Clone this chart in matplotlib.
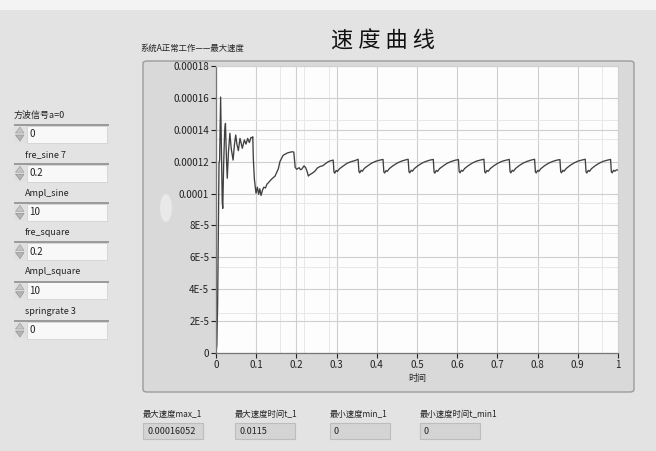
import matplotlib.pyplot as plt
import numpy as np
from matplotlib.patches import Rectangle, FancyBboxPatch, Polygon, Ellipse
from matplotlib.ticker import FixedLocator

plt.rcParams['font.family'] = ['Noto Sans CJK SC', 'DejaVu Sans']

# speed curve (time in s, speed)
time = [
    0.000, 0.002, 0.004, 0.006, 0.0075, 0.009, 0.0115, 0.0135, 0.0155, 0.0168,
    0.019, 0.0215, 0.0235, 0.026, 0.028, 0.031, 0.0345, 0.038, 0.0425, 0.046,
    0.049, 0.052, 0.0556, 0.0597, 0.063, 0.0655, 0.0705, 0.0746, 0.0788, 0.083,
    0.087, 0.0905, 0.0915, 0.093, 0.0955, 0.0995, 0.103, 0.106, 0.109, 0.112,
    0.116, 0.119, 0.123, 0.127, 0.131, 0.138, 0.147, 0.155, 0.159, 0.167,
    0.177, 0.185, 0.190, 0.1935, 0.197, 0.201, 0.204, 0.207, 0.210, 0.213,
    0.219, 0.223, 0.2265, 0.2297, 0.234, 0.238, 0.246, 0.252, 0.259, 0.266,
    0.271, 0.278, 0.284, 0.2915,
    0.2935, 0.2955, 0.299, 0.302, 0.307, 0.316, 0.326, 0.336, 0.346, 0.3535,
    0.3555, 0.3575, 0.361, 0.364, 0.369, 0.378, 0.388, 0.398, 0.408, 0.4155,
    0.4175, 0.4195, 0.423, 0.426, 0.431, 0.440, 0.450, 0.460, 0.470, 0.478,
    0.480, 0.482, 0.4855, 0.4885, 0.4935, 0.5025, 0.5125, 0.5225, 0.5325, 0.5405,
    0.5425, 0.5445, 0.548, 0.551, 0.556, 0.565, 0.575, 0.585, 0.595, 0.603,
    0.605, 0.607, 0.6105, 0.6135, 0.6185, 0.6275, 0.6375, 0.6475, 0.6575, 0.6665,
    0.6685, 0.6705, 0.674, 0.677, 0.682, 0.691, 0.701, 0.711, 0.721, 0.7295,
    0.7315, 0.7335, 0.737, 0.740, 0.745, 0.754, 0.764, 0.774, 0.784, 0.7925,
    0.7945, 0.7965, 0.800, 0.803, 0.808, 0.817, 0.827, 0.837, 0.847, 0.8555,
    0.8575, 0.8595, 0.863, 0.866, 0.871, 0.880, 0.890, 0.900, 0.910, 0.9185,
    0.9205, 0.9225, 0.926, 0.929, 0.934, 0.943, 0.953, 0.963, 0.973, 0.9815,
    0.9835, 0.9855, 0.989, 0.992, 0.996, 1.000,
]
speed = [
    0.0, 0.05e-4, 0.30e-4, 0.85e-4, 1.19e-4, 1.21e-4, 1.6052e-4, 1.28e-4, 0.95e-4, 0.907e-4,
    1.18e-4, 1.39e-4, 1.44e-4, 1.22e-4, 1.096e-4, 1.26e-4, 1.378e-4, 1.28e-4, 1.21e-4, 1.31e-4,
    1.367e-4, 1.31e-4, 1.269e-4, 1.346e-4, 1.31e-4, 1.284e-4, 1.336e-4, 1.31e-4, 1.346e-4, 1.32e-4,
    1.352e-4, 1.350e-4, 1.356e-4, 1.21e-4, 1.09e-4, 1.002e-4, 1.04e-4, 0.995e-4, 1.03e-4, 0.988e-4,
    1.024e-4, 1.04e-4, 1.035e-4, 1.06e-4, 1.07e-4, 1.09e-4, 1.11e-4, 1.155e-4, 1.20e-4, 1.24e-4,
    1.254e-4, 1.26e-4, 1.262e-4, 1.26e-4, 1.164e-4, 1.152e-4, 1.158e-4, 1.162e-4, 1.150e-4, 1.152e-4,
    1.174e-4, 1.162e-4, 1.140e-4, 1.110e-4, 1.120e-4, 1.125e-4, 1.140e-4, 1.160e-4, 1.170e-4, 1.175e-4,
    1.185e-4, 1.198e-4, 1.205e-4, 1.210e-4,
    1.135e-4, 1.128e-4, 1.145e-4, 1.138e-4, 1.155e-4, 1.172e-4, 1.190e-4, 1.200e-4, 1.207e-4, 1.215e-4,
    1.138e-4, 1.130e-4, 1.146e-4, 1.140e-4, 1.158e-4, 1.175e-4, 1.192e-4, 1.203e-4, 1.210e-4, 1.214e-4,
    1.136e-4, 1.129e-4, 1.144e-4, 1.139e-4, 1.156e-4, 1.174e-4, 1.190e-4, 1.202e-4, 1.210e-4, 1.215e-4,
    1.137e-4, 1.130e-4, 1.146e-4, 1.140e-4, 1.157e-4, 1.175e-4, 1.191e-4, 1.202e-4, 1.210e-4, 1.214e-4,
    1.135e-4, 1.128e-4, 1.145e-4, 1.139e-4, 1.156e-4, 1.173e-4, 1.190e-4, 1.201e-4, 1.209e-4, 1.213e-4,
    1.137e-4, 1.130e-4, 1.146e-4, 1.140e-4, 1.157e-4, 1.175e-4, 1.191e-4, 1.203e-4, 1.210e-4, 1.215e-4,
    1.136e-4, 1.129e-4, 1.145e-4, 1.139e-4, 1.156e-4, 1.174e-4, 1.190e-4, 1.202e-4, 1.209e-4, 1.214e-4,
    1.137e-4, 1.130e-4, 1.146e-4, 1.140e-4, 1.157e-4, 1.175e-4, 1.191e-4, 1.202e-4, 1.210e-4, 1.215e-4,
    1.136e-4, 1.129e-4, 1.145e-4, 1.139e-4, 1.156e-4, 1.174e-4, 1.190e-4, 1.201e-4, 1.209e-4, 1.213e-4,
    1.137e-4, 1.130e-4, 1.146e-4, 1.140e-4, 1.157e-4, 1.175e-4, 1.191e-4, 1.203e-4, 1.210e-4, 1.215e-4,
    1.136e-4, 1.129e-4, 1.145e-4, 1.139e-4, 1.156e-4, 1.174e-4, 1.190e-4, 1.202e-4, 1.209e-4, 1.214e-4,
    1.136e-4, 1.130e-4, 1.146e-4, 1.140e-4, 1.148e-4, 1.148e-4,
]

x_ticks = [0, 0.1, 0.2, 0.3, 0.4, 0.5, 0.6, 0.7, 0.8, 0.9, 1]
x_labels = ['0', '0.1', '0.2', '0.3', '0.4', '0.5', '0.6', '0.7', '0.8', '0.9', '1']
y_ticks = [0, 2e-5, 4e-5, 6e-5, 8e-5, 1e-4, 1.2e-4, 1.4e-4, 1.6e-4, 1.8e-4]
y_labels = ['0', '2E-5', '4E-5', '6E-5', '8E-5', '0.0001', '0.00012', '0.00014', '0.00016', '0.00018']

# front panel controls
ctrl_labels = ['方波信号a=0', 'fre_sine 7', 'Ampl_sine', 'fre_square', 'Ampl_square', 'springrate 3']
ctrl_values = ['0', '0.2', '10', '0.2', '10', '0']

# indicators: max speed and its time come from the curve
i_max = int(np.argmax(speed))
ind_labels = ['最大速度max_1', '最大速度时间t_1', '最小速度min_1', '最小速度时间t_min1']
ind_values = ['%.8f' % speed[i_max], '%g' % time[i_max], '0', '0']

W, H = 656, 451
fig = plt.figure(figsize=(W / 100, H / 100), dpi=100, facecolor='#e3e3e3')


def fx(x):
    return x / W


def fy(y):
    return 1 - y / H


def box(x0, y0, x1, y1, **kw):
    r = Rectangle((fx(x0), fy(y1)), fx(x1) - fx(x0), fy(y0) - fy(y1),
                  transform=fig.transFigure, **kw)
    fig.add_artist(r)
    return r


def label(x, y, s, **kw):
    kw.setdefault('fontsize', 6.5)
    kw.setdefault('color', '#222222')
    fig.text(fx(x), fy(y), s, va='center', ha=kw.pop('ha', 'left'), **kw)


# light strip along the top
box(0, 0, W, 10, facecolor='#f3f3f3', edgecolor='none')

# graph frame
frame = FancyBboxPatch((fx(143), fy(392)), fx(634) - fx(143), fy(61) - fy(392),
                       boxstyle='round,pad=0,rounding_size=0.006',
                       transform=fig.transFigure, facecolor='#d9d9d9',
                       edgecolor='#9c9c9c', linewidth=1.0, zorder=-2)
fig.add_artist(frame)
fig.add_artist(Ellipse((fx(166), fy(208)), 12 / W, 28 / H, transform=fig.transFigure,
                       facecolor='#e9e9e9', edgecolor='none', zorder=-1))

label(140, 48, '系统A正常工作——最大速度', fontsize=6)
fig.text(fx(383), fy(41), '速 度 曲 线', ha='center', va='center',
         fontsize=16, color='#111111')

ax = fig.add_axes([fx(216), fy(353), fx(618) - fx(216), fy(66) - fy(353)])
ax.set_zorder(5)
ax.set_facecolor('#fdfdfd')
ax.plot(time, speed, color='#404040', linewidth=0.95)
ax.set_xlim(0, 1)
ax.set_ylim(0, 1.8e-4)
ax.set_xticks(x_ticks)
ax.set_xticklabels(x_labels)
ax.set_yticks(y_ticks)
ax.set_yticklabels(y_labels)
ax.xaxis.set_minor_locator(FixedLocator([0.16, 0.22, 0.28, 0.96]))
ax.yaxis.set_minor_locator(FixedLocator([0.25e-4, 0.54e-4, 0.75e-4, 0.94e-4, 1.34e-4, 1.46e-4]))
ax.set_axisbelow(True)
ax.grid(True, which='major', color='#cfcfcf', linewidth=0.8)
ax.grid(True, which='minor', color='#e8e8e8', linewidth=0.7)
ax.tick_params(which='minor', length=0)
ax.tick_params(which='major', labelsize=7, colors='#222222', length=3.5, width=0.8,
               pad=1.5, direction='out')
for side in ['top', 'right']:
    ax.spines[side].set_color('#d0d0d0')
    ax.spines[side].set_linewidth(0.8)
for side in ['left', 'bottom']:
    ax.spines[side].set_color('#777777')
    ax.spines[side].set_linewidth(0.9)
ax.set_xlabel('时间', fontsize=6.5, color='#222222', labelpad=3)

# numeric controls on the left
for i, (name, val) in enumerate(zip(ctrl_labels, ctrl_values)):
    top = 124 + i * 39.2
    label(14 if i == 0 else 25, top - 9, name)
    box(14, top, 108, top + 19, facecolor='#e0e0e0', edgecolor='none')
    box(27, top + 1.5, 107, top + 18.5, facecolor='#f8f8f8', edgecolor='#d2d2d2', linewidth=0.6)
    fig.add_artist(plt.Line2D([fx(15), fx(108)], [fy(top + 0.8)] * 2,
                              transform=fig.transFigure, color='#9a9a9a', linewidth=1.4))
    fig.add_artist(Polygon([[fx(15.5), fy(top + 9)], [fx(24), fy(top + 9)], [fx(20), fy(top + 3)]],
                           transform=fig.transFigure, facecolor='#c4c4c4', edgecolor='#9a9a9a', lw=0.4))
    fig.add_artist(Polygon([[fx(15.5), fy(top + 11)], [fx(24), fy(top + 11)], [fx(20), fy(top + 17)]],
                           transform=fig.transFigure, facecolor='#b4b4b4', edgecolor='#8a8a8a', lw=0.4))
    label(29, top + 10, val, fontsize=7)

# indicators below the graph
ind_x = [143, 235, 330, 420]
for x0, name, val in zip(ind_x, ind_labels, ind_values):
    label(x0, 414, name, fontsize=6)
    box(x0, 423, x0 + 60, 439, facecolor='#d4d4d4', edgecolor='#bdbdbd', linewidth=0.8)
    label(x0 + 4, 431.5, val, fontsize=6.5)

fig.savefig('out.png', dpi=100, facecolor=fig.get_facecolor())
